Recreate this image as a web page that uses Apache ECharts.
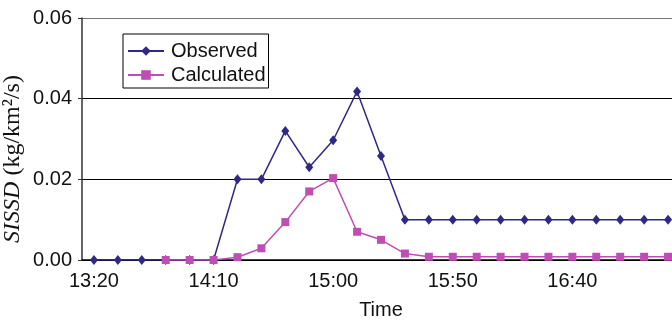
<!DOCTYPE html>
<html>
<head>
<meta charset="utf-8">
<script src="https://cdn.jsdelivr.net/npm/echarts@6/dist/echarts.min.js"></script>
<style>
  html, body { margin: 0; padding: 0; background: #fff; }
  #chart { width: 672px; height: 320px; }
</style>
</head>
<body>
<div id="chart"></div>
<script>
// 10-minute samples, 13:20 .. 17:20
const times = ['13:20', '13:30', '13:40', '13:50', '14:00', '14:10', '14:20', '14:30', '14:40',
  '14:50', '15:00', '15:10', '15:20', '15:30', '15:40', '15:50', '16:00', '16:10', '16:20',
  '16:30', '16:40', '16:50', '17:00', '17:10', '17:20'];

const observed = [0, 0, 0, 0, 0, 0, 0.020, 0.020, 0.032, 0.023, 0.0297, 0.0418, 0.0258, 0.010,
  0.010, 0.010, 0.010, 0.010, 0.010, 0.010, 0.010, 0.010, 0.010, 0.010, 0.010];

const calculated = [null, null, null, 0, 0, 0, 0.0007, 0.0029, 0.0094, 0.0170, 0.0203, 0.0070,
  0.0050, 0.0016, 0.0008, 0.0008, 0.0008, 0.0008, 0.0008, 0.0008, 0.0008, 0.0008, 0.0008,
  0.0008, 0.0008];

const yTicks = [0, 0.02, 0.04, 0.06];

const SANS = 'Liberation Sans';
const SERIF = 'Liberation Serif';
const NAVY = '#2f2887';
const MAGENTA = '#c04db4';

const chart = echarts.init(document.getElementById('chart'), null, { renderer: 'canvas' });

chart.setOption({
  animation: false,
  textStyle: { fontFamily: SANS },
  // plot runs past the right edge of the picture, like the cropped original
  grid: { left: 82, right: -8, top: 18, bottom: 60, containLabel: false, outerBoundsMode: 'none' },
  legend: {
    left: 123, top: 34,
    orient: 'vertical',
    backgroundColor: '#fff',
    borderColor: '#000',
    borderWidth: 1,
    padding: [7, 3, 3, 4],
    itemGap: 4,
    itemWidth: 36,
    itemHeight: 12,
    textStyle: { fontFamily: SANS, fontSize: 20, color: '#111', padding: [0, 0, 0, 2] },
    data: ['Observed', 'Calculated'],
  },
  xAxis: {
    type: 'category',
    data: times,
    boundaryGap: true,
    name: 'Time',
    nameLocation: 'middle',
    nameGap: 40,
    nameMoveOverlap: false,
    nameTextStyle: { fontFamily: SANS, fontSize: 20, color: '#111' },
    axisLine: { lineStyle: { color: '#000', width: 1.5 } },
    axisTick: { inside: true, length: 7, interval: 0, lineStyle: { color: '#000' } },
    axisLabel: { interval: 4, margin: 11, fontFamily: SANS, fontSize: 20, color: '#111' },
  },
  yAxis: {
    type: 'value',
    min: yTicks[0],
    max: yTicks[yTicks.length - 1],
    interval: 0.02,
    name: '{it|SISSD} (kg/km²/s)',
    nameLocation: 'middle',
    nameRotate: 90,
    nameGap: 57,
    nameMoveOverlap: false,
    nameTextStyle: {
      fontFamily: SERIF, fontSize: 24, color: '#111',
      padding: [0, 40, 0, 0],
      rich: { it: { fontFamily: SERIF, fontSize: 24, fontStyle: 'italic', color: '#111' } },
    },
    axisLine: { show: true, lineStyle: { color: '#333', width: 1.5 } },
    axisTick: { show: true, length: 4, lineStyle: { color: '#333' } },
    axisLabel: {
      margin: 10, fontFamily: SANS, fontSize: 20, color: '#111',
      formatter: v => v.toFixed(2),
    },
    splitLine: { lineStyle: { color: ['#000', '#000', '#000', '#777'], width: 1.2 } },
  },
  series: [
    {
      name: 'Observed',
      type: 'line',
      data: observed,
      symbol: 'diamond',
      symbolSize: [8, 10],
      lineStyle: { color: NAVY, width: 1.5 },
      itemStyle: { color: NAVY },
    },
    {
      name: 'Calculated',
      type: 'line',
      data: calculated,
      symbol: 'rect',
      symbolSize: 8,
      lineStyle: { color: MAGENTA, width: 1.5 },
      itemStyle: { color: MAGENTA },
    },
  ],
});
</script>
</body>
</html>
